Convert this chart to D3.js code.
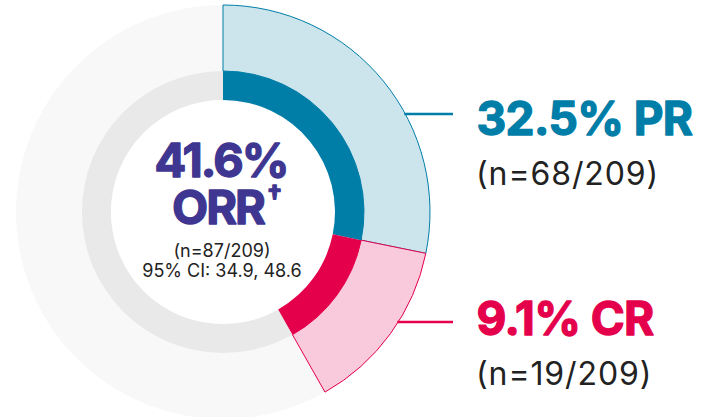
<!DOCTYPE html>
<html><head><meta charset="utf-8">
<script src="https://cdn.jsdelivr.net/npm/d3@7"></script>
<style>html,body{margin:0;padding:0;background:#fff;}svg{display:block;}</style>
</head><body>
<script>
// Data
const categories = ["PR", "CR"];
const percentValues = [32.5, 9.1];          // displayed response rates (%)
const counts = ["n=68/209", "n=19/209"];    // displayed counts
// Share of the full circle each segment occupies, as drawn in the picture (%)
const drawnShares = [28.2, 13.6];
const totalLabel = "41.6%";
const totalName = "ORR";
const totalCount = "(n=87/209)";
const ciLabel = "95% CI: 34.9, 48.6";

const W = 712, H = 417;
const cx = 223, cy = 212;
const rInner = 112, rMid = 141, rOuter = 207;

const darkColors = ["#007ea8", "#e5004c"];
const lightColors = ["#cce4ec", "#f9cadb"];
const purple = "#3e3690";

const svg = d3.select("body").append("svg").attr("width", W).attr("height", H);
const g = svg.append("g").attr("transform", `translate(${cx},${cy})`);

// Background disk and ring
g.append("circle").attr("r", rOuter).attr("fill", "#f8f8f8");
g.append("path").attr("d", d3.arc().innerRadius(rInner).outerRadius(rMid)({startAngle:0,endAngle:2*Math.PI})).attr("fill", "#e9e9e9");
g.append("circle").attr("r", rInner).attr("fill", "#fff");

const rest = 100 - d3.sum(drawnShares);
const pie = d3.pie().sort(null).value(d => d.v);
const arcsData = pie(categories.map((c, i) => ({c, v: drawnShares[i], i})).concat([{c: "rest", v: rest, i: -1}]))
  .filter(d => d.data.i >= 0);

const outerArc = d3.arc().innerRadius(rMid).outerRadius(rOuter);
const innerArc = d3.arc().innerRadius(rInner).outerRadius(rMid);

g.selectAll("path.outer").data(arcsData).join("path")
  .attr("class", "outer")
  .attr("d", outerArc)
  .attr("fill", d => lightColors[d.data.i])
  .attr("stroke", d => darkColors[d.data.i])
  .attr("stroke-width", 1);

g.selectAll("path.inner").data(arcsData).join("path")
  .attr("class", "inner")
  .attr("d", innerArc)
  .attr("fill", d => darkColors[d.data.i]);

// Labels with leader lines
const labelBaselines = [135, 335];
const lineYs = [114, 322];
const labelX = 476;
const lineEnd = 453;
categories.forEach((c, i) => {
  const ly = lineYs[i];
  const dy = ly - cy;
  const startX = cx + Math.sqrt(rOuter * rOuter - dy * dy);
  svg.append("line").attr("x1", startX - 1).attr("x2", lineEnd)
    .attr("y1", ly).attr("y2", ly)
    .attr("stroke", darkColors[i]).attr("stroke-width", 2.5);
  svg.append("text").attr("x", labelX + 0.5).attr("y", labelBaselines[i])
    .attr("font-family", "Inter, sans-serif").attr("font-weight", 700)
    .attr("font-size", 46).attr("fill", darkColors[i])
    .attr("stroke", darkColors[i]).attr("stroke-width", 1.3).attr("stroke-linejoin", "round")
    .attr("letter-spacing", -0.6)
    .text(`${percentValues[i]}% ${c}`);
  svg.append("text").attr("x", labelX).attr("y", labelBaselines[i] + 50)
    .attr("font-family", "Inter, sans-serif").attr("font-weight", 400)
    .attr("font-size", 32).attr("fill", "#222")
    .attr("letter-spacing", 0.9)
    .text(`(${counts[i]})`);
});

// Center text
const ctr = svg.append("g").attr("font-family", "Inter, sans-serif").attr("text-anchor", "middle");
const big = ctr.append("text").attr("font-size", 47).attr("font-weight", 700)
  .attr("fill", purple).attr("stroke", purple).attr("stroke-width", 1.3).attr("stroke-linejoin", "round")
  .attr("letter-spacing", -2);
big.append("tspan").attr("x", cx - 2).attr("y", 177).text(totalLabel);
big.append("tspan").attr("x", cx + 3).attr("y", 224).text(totalName);
big.append("tspan").attr("font-size", 26).attr("dy", -20).attr("dx", 3).text("†");
ctr.append("text").attr("x", cx - 1).attr("y", 257).attr("font-size", 18).attr("fill", "#222").text(totalCount);
ctr.append("text").attr("x", cx - 1).attr("y", 277).attr("font-size", 18).attr("fill", "#222").text(ciLabel);
</script>
</body></html>
